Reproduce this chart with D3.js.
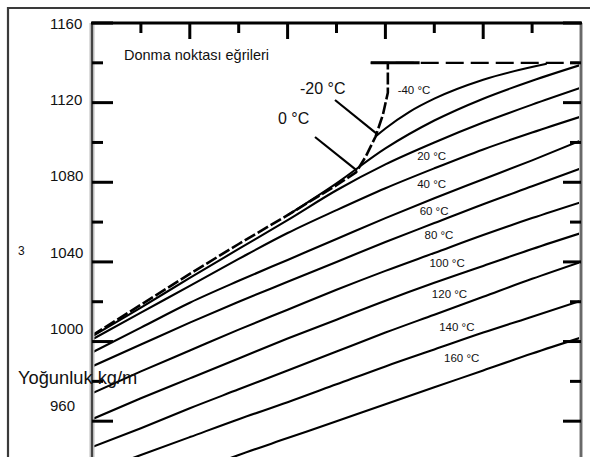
<!DOCTYPE html>
<html>
<head>
<meta charset="utf-8">
<script src="https://cdn.jsdelivr.net/npm/d3@7"></script>
<style>
  body { margin: 0; background: #fff; }
  svg { display: block; }
  text { font-family: "Liberation Sans", Arial, sans-serif; fill: #111; }
</style>
</head>
<body>
<svg id="chart" width="590" height="457"></svg>
<script>
// Density of glycol–water mixtures (kg/m³) against mass concentration (%)
const conc = [0, 10, 20, 30, 40, 50, 60, 70, 80, 90, 100];
const rho0   = [1002.5, 1017, 1032, 1046.5, 1061, 1076, 1089, 1100, 1110, 1119, 1127.5];
const rho20  = [1001, 1014.5, 1028, 1041.5, 1054.5, 1066, 1077, 1087, 1096.5, 1105, 1113];
const rho40  = [994.5, 1007, 1019.5, 1030.5, 1041, 1051.5, 1062, 1072, 1081.5, 1091, 1101];
const rho60  = [987.5, 998.5, 1009.5, 1020, 1030, 1040, 1050, 1059.5, 1069, 1078, 1087];
const rho80  = [974, 985, 995.5, 1006, 1016, 1026, 1035.5, 1044.5, 1053.5, 1062, 1070];
const rho100 = [961, 971.5, 981.5, 991.5, 1001.5, 1011, 1020.5, 1029.5, 1038, 1046.5, 1054.5];
const rho120 = [947, 956.5, 966.5, 976, 985.5, 995, 1004.5, 1013.5, 1022.5, 1031.5, 1040];
const rho140 = [934, 943, 952, 961, 969.5, 978.5, 987.5, 996, 1004.5, 1012.5, 1020.5];
const rho160 = [915, 924.5, 934, 943, 951.5, 960, 968.5, 977, 985.5, 994, 1002];

// Sub-zero lines begin on the freezing curve
const concM20 = [40, 50, 60, 70, 80, 90, 100];
const rhoM20  = [1063.5, 1079.5, 1097, 1111, 1122, 1131, 1139];
const concM40 = [58, 60, 65, 70, 80, 93];
const rhoM40  = [1103, 1107, 1115.5, 1122, 1131.5, 1139.5];

// Freezing point curve and the upper limit line
const freezeConc = [0, 10, 20, 30, 40, 50, 54, 56, 58, 59.5, 60.5, 60.5];
const freezeRho  = [1003, 1018.5, 1034, 1049, 1063.5, 1078.5, 1085, 1093, 1103, 1114, 1125, 1140];
const limitConc = [57, 100];
const limitRho  = [1140, 1140];

const yTicks = [960, 980, 1000, 1020, 1040, 1060, 1080, 1100, 1120, 1140, 1160];
const yTickLabels = [960, 1000, 1040, 1080, 1120, 1160];
const xTicks = [10, 20, 30, 40, 50, 60, 70, 80, 90];

const series = [
  { t: -40, c: concM40, r: rhoM40, labelAt: 62.5, lift: 20 },
  { t: -20, c: concM20, r: rhoM20, labelAt: null },
  { t: 0,   c: conc, r: rho0,   labelAt: null },
  { t: 20,  c: conc, r: rho20,  labelAt: 66.5, lift: 13 },
  { t: 40,  c: conc, r: rho40,  labelAt: 66.5, lift: 15 },
  { t: 60,  c: conc, r: rho60,  labelAt: 67, lift: 12 },
  { t: 80,  c: conc, r: rho80,  labelAt: 68, lift: 16 },
  { t: 100, c: conc, r: rho100, labelAt: 69, lift: 16 },
  { t: 120, c: conc, r: rho120, labelAt: 69.5, lift: 16 },
  { t: 140, c: conc, r: rho140, labelAt: 71, lift: 16 },
  { t: 160, c: conc, r: rho160, labelAt: 72, lift: 21 }
];

const svg = d3.select("#chart");
const x = d3.scaleLinear().domain([0, 100]).range([92, 581]);
const y = d3.scaleLinear().domain([940, 1160]).range([461, 23]);
const yLabel = d3.scaleLinear().domain([960, 1160]).range([405, 23]);

// outer frame
svg.append("path").attr("d", "M8,470V8H600")
  .attr("fill", "none").attr("stroke", "#3a3a3a").attr("stroke-width", 2.2);

svg.append("clipPath").attr("id", "plot")
  .append("rect").attr("x", x(0)).attr("y", y(1160)).attr("width", x(100) - x(0)).attr("height", y(940) - y(1160));

const g = svg.append("g").attr("clip-path", "url(#plot)");
const line = d3.line().x(d => x(d[0])).y(d => y(d[1])).curve(d3.curveMonotoneX);

series.forEach(s => {
  g.append("path")
    .datum(s.c.map((c, i) => [c, s.r[i]]))
    .attr("d", line)
    .attr("fill", "none").attr("stroke", "#000").attr("stroke-width", 2.1);
});

// freezing curve
g.append("path")
  .datum(freezeConc.map((c, i) => [c, freezeRho[i]]))
  .attr("d", d3.line().x(d => x(d[0])).y(d => y(d[1])).curve(d3.curveLinear))
  .attr("fill", "none").attr("stroke", "#000").attr("stroke-width", 2.6)
  .attr("stroke-dasharray", "12,3");

// limit line: solid start then dashed
g.append("path")
  .datum([[limitConc[0], limitRho[0]], [limitConc[0] + 10, limitRho[1]]])
  .attr("d", d3.line().x(d => x(d[0])).y(d => y(d[1])))
  .attr("stroke", "#000").attr("stroke-width", 3);
g.append("path")
  .datum(limitConc.map((c, i) => [c, limitRho[i]]))
  .attr("d", d3.line().x(d => x(d[0])).y(d => y(d[1])))
  .attr("stroke", "#000").attr("stroke-width", 2.2).attr("stroke-dasharray", "18,7");

// axes lines
svg.append("line").attr("x1", x(0)).attr("x2", x(0)).attr("y1", y(1160)).attr("y2", 470)
  .attr("stroke", "#bbb").attr("stroke-width", 5);
svg.append("line").attr("x1", x(0)).attr("x2", x(0)).attr("y1", y(1160)).attr("y2", 470)
  .attr("stroke", "#444").attr("stroke-width", 2);
svg.append("line").attr("x1", x(100)).attr("x2", x(100)).attr("y1", y(1160)).attr("y2", 470)
  .attr("stroke", "#bbb").attr("stroke-width", 4);
svg.append("line").attr("x1", x(100)).attr("x2", x(100)).attr("y1", y(1160)).attr("y2", 470)
  .attr("stroke", "#555").attr("stroke-width", 1.6);
svg.append("line").attr("x1", x(0) - 1).attr("x2", x(100) + 1).attr("y1", y(1160)).attr("y2", y(1160))
  .attr("stroke", "#000").attr("stroke-width", 3);

// ticks
const major = v => v % 40 === 0;
svg.selectAll(".ytl").data(yTicks).enter().append("line")
  .attr("x1", x(0)).attr("x2", v => x(0) + (major(v) ? 21 : 11))
  .attr("y1", v => y(v)).attr("y2", v => y(v))
  .attr("stroke", "#000").attr("stroke-width", 3);
svg.selectAll(".ytr").data(yTicks).enter().append("line")
  .attr("x1", x(100)).attr("x2", v => x(100) - (major(v) ? 18 : 11))
  .attr("y1", v => y(v)).attr("y2", v => y(v))
  .attr("stroke", "#000").attr("stroke-width", 3);
svg.selectAll(".xt").data(xTicks).enter().append("line")
  .attr("x1", v => x(v)).attr("x2", v => x(v))
  .attr("y1", y(1160)).attr("y2", v => y(1160) + (v % 20 === 0 ? 16 : 10))
  .attr("stroke", "#000").attr("stroke-width", 3);

// y tick labels
svg.selectAll(".yl").data(yTickLabels).enter().append("text")
  .attr("x", 50).attr("y", v => yLabel(v))
  .attr("dominant-baseline", "central")
  .style("font-size", "15px")
  .text(d => d);

// axis title (horizontal, with stray superscript)
svg.append("text").attr("x", 18).attr("y", 377).attr("dominant-baseline", "central")
  .style("font-size", "18.3px").text("Yoğunluk kg/m");
svg.append("text").attr("x", 18).attr("y", 251).attr("dominant-baseline", "central")
  .style("font-size", "12px").text("3");

svg.append("text").attr("x", 124).attr("y", 55).attr("dominant-baseline", "central")
  .style("font-size", "14.5px").text("Donma noktası eğrileri");

// temperature labels riding above their lines
function rhoAt(c, cs, rs) {
  const i = Math.max(0, d3.bisectRight(cs, c) - 1);
  const j = Math.min(i + 1, cs.length - 1);
  const f = (c - cs[i]) / ((cs[j] - cs[i]) || 1);
  return rs[i] + f * (rs[j] - rs[i]);
}
series.filter(s => s.labelAt !== null).forEach(s => {
  svg.append("text")
    .attr("x", x(s.labelAt)).attr("y", y(rhoAt(s.labelAt + 3, s.c, s.r)) - s.lift)
    .attr("dominant-baseline", "central")
    .style("font-size", "11.5px")
    .text(s.t + " °C");
});

// called-out temperatures with leader lines onto the freezing curve
const callouts = [
  { t: -20, at: 58.2, tx: 300, ty: 88, lx: 335, ly: 100 },
  { t: 0,   at: 54.2, tx: 278, ty: 118, lx: 315, ly: 137 }
];
callouts.forEach(o => {
  svg.append("text").attr("x", o.tx).attr("y", o.ty).attr("dominant-baseline", "central")
    .style("font-size", "16px").text(o.t + " °C");
  svg.append("line").attr("x1", o.lx).attr("y1", o.ly)
    .attr("x2", x(o.at)).attr("y2", y(rhoAt(o.at, freezeConc.slice(0, 10), freezeRho.slice(0, 10))))
    .attr("stroke", "#000").attr("stroke-width", 2.2);
});
</script>
</body>
</html>
